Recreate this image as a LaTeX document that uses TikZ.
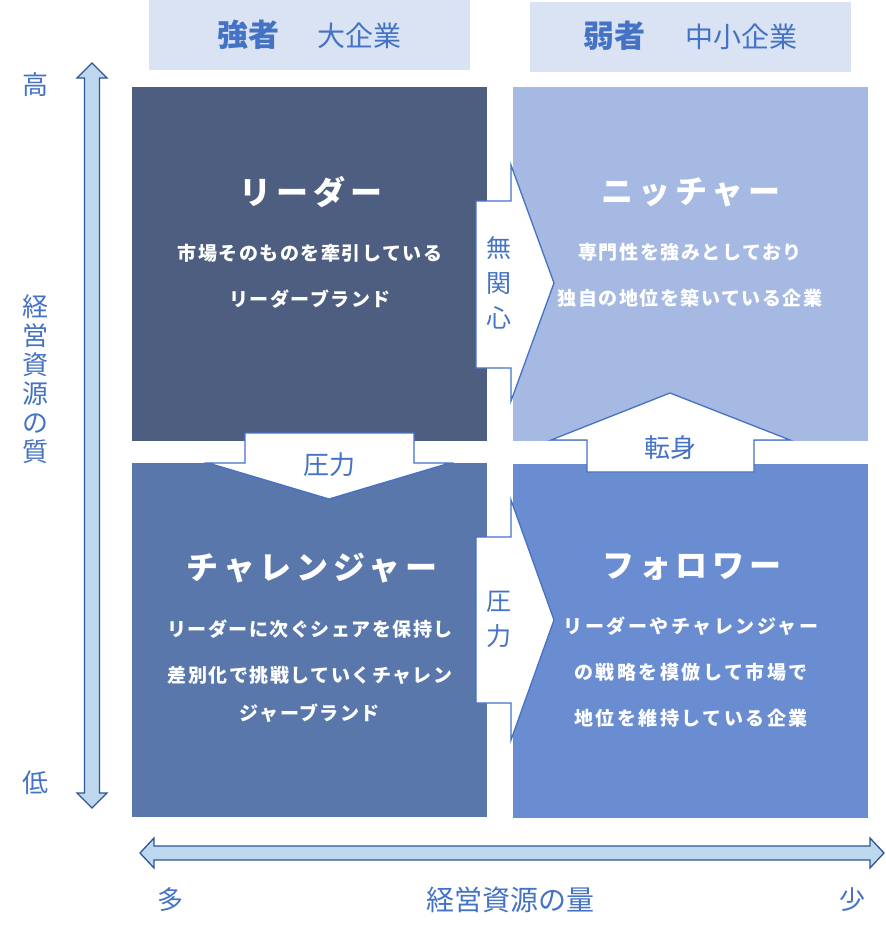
\documentclass[tikz,border=0pt]{standalone}
\usepackage{fontspec}
\setmainfont{Noto Sans CJK JP}
\usetikzlibrary{positioning}

\definecolor{leaderc}{RGB}{77,94,128}
\definecolor{nichec}{RGB}{166,185,226}
\definecolor{challc}{RGB}{90,119,172}
\definecolor{followc}{RGB}{106,141,210}
\definecolor{headc}{RGB}{218,227,243}
\definecolor{linec}{RGB}{68,114,196}
\definecolor{axisfill}{RGB}{189,215,238}
\definecolor{axisline}{RGB}{47,85,151}

\tikzset{
  quad/.style={rectangle,inner sep=0pt,minimum width=355pt,minimum height=354pt},
  headbox/.style={rectangle,fill=headc,inner sep=0pt,minimum width=321pt,minimum height=70pt},
  ttl/.style={text=white,font=\fontsize{32}{32}\selectfont\bfseries\addfontfeature{LetterSpace=15}},
  desc/.style={text=white,align=center,font=\fontsize{19}{46}\selectfont\bfseries\addfontfeature{LetterSpace=8}},
  lbl/.style={text=linec,inner sep=0pt,font=\fontsize{26}{35}\selectfont},
  blockarrow/.style={draw=linec,fill=white,line width=1.3pt},
  axisarrow/.style={draw=axisline,fill=axisfill,line width=1.3pt}
}

\begin{document}
\begin{tikzpicture}[x=1pt,y=-1pt]
  \useasboundingbox (0,0) rectangle (886,937);

  % headers
  \node[headbox] (strong) at (309.5,35) {};
  \node[headbox] (weak) at (690,36.5) {};
  \node[lbl,font=\fontsize{31}{31}\selectfont\bfseries] (strongA) at (248,35) {強者};
  \node[lbl,font=\fontsize{28}{28}\selectfont] (strongB) at (359,36) {大企業};
  \node[lbl,font=\fontsize{31}{31}\selectfont\bfseries] (weakA) at (614,36) {弱者};
  \node[lbl,font=\fontsize{28}{28}\selectfont] (weakB) at (741,37) {中小企業};

  % quadrants
  \node[quad,fill=leaderc] (leader) at (309.5,264) {};
  \node[quad,fill=nichec] (niche) at (690,264) {};
  \node[quad,fill=challc] (chall) at (309.5,640) {};
  \node[quad,fill=followc] (follow) at (690,640.5) {};

  % block arrows
  \draw[blockarrow] (476,201) -- (511,201) -- (511,165) -- (554,283) -- (511,401)
    -- (511,368) -- (476,368) -- cycle;
  \draw[blockarrow] (245,433) -- (414,433) -- (414,463) -- (450,463) -- (329,499)
    -- (208,463) -- (245,463) -- cycle;
  \draw[blockarrow] (587,472) -- (754,472) -- (754,440) -- (790,440) -- (670,393)
    -- (551,440) -- (587,440) -- cycle;
  \draw[blockarrow] (476,537) -- (511,537) -- (511,500) -- (554,620) -- (511,740)
    -- (511,703) -- (476,703) -- cycle;

  % axes
  \draw[axisarrow] (92,63) -- (107,78) -- (99.5,78) -- (99.5,793) -- (107,793)
    -- (92,808) -- (77,793) -- (84.5,793) -- (84.5,78) -- (77,78) -- cycle;
  \draw[axisarrow] (140,853) -- (154,838) -- (154,846) -- (870,846) -- (870,838)
    -- (884,853) -- (870,868) -- (870,860) -- (154,860) -- (154,868) -- cycle;

  % quadrant texts
  \node[ttl] (leaderT) at (311,192) {リーダー};
  \node[desc] (leaderD) at (310,276) {市場そのものを牽引している\\リーダーブランド};
  \node[ttl] (nicheT) at (691,192) {ニッチャー};
  \node[desc] (nicheD) at (690,275.5) {専門性を強みとしており\\独自の地位を築いている企業};
  \node[ttl] (challT) at (312,568) {チャレンジャー};
  \node[desc] (challD) at (310,671) {リーダーに次ぐシェアを保持し\\差別化で挑戦していくチャレン\\[-8pt]ジャーブランド};
  \node[ttl] (followT) at (692,567) {フォロワー};
  \node[desc,font=\fontsize{19}{46}\selectfont\bfseries\addfontfeature{LetterSpace=13}] (followD) at (691,672.5) {リーダーやチャレンジャー\\の戦略を模倣して市場で\\地位を維持している企業};

  % arrow labels
  \node[lbl,align=center,font=\fontsize{25}{35}\selectfont] (noint) at (499,283) {無\\関\\心};
  \node[lbl] (pressA) at (329,465) {圧力};
  \node[lbl] (shift) at (670,448) {転身};
  \node[lbl,align=center,font=\fontsize{25}{35}\selectfont] (pressB) at (499,619) {圧\\力};

  % axis labels
  \node[lbl] (high) at (35,85) {高};
  \node[lbl] (low) at (35,783) {低};
  \node[lbl,align=center,font=\fontsize{26}{29}\selectfont] (quality) at (35,379) {経\\営\\資\\源\\の\\質};
  \node[lbl] (many) at (170,900) {多};
  \node[lbl,font=\fontsize{28}{28}\selectfont] (amount) at (510,900) {経営資源の量};
  \node[lbl] (few) at (852,900) {少};
\end{tikzpicture}
\end{document}
